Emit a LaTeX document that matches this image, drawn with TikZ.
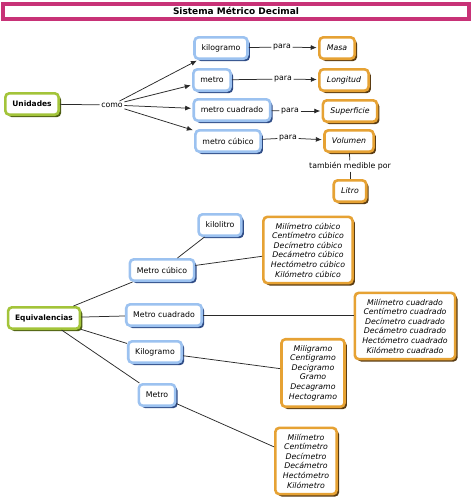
\documentclass[tikz,border=0pt]{standalone}
\usepackage{fontspec}
\setmainfont{DejaVu Sans}
\usetikzlibrary{arrows.meta,shadows}
\definecolor{smdpink}{HTML}{C83277}
\definecolor{smdblue}{HTML}{9CC2F0}
\definecolor{smdblueshade}{HTML}{2F4C86}
\definecolor{smdorange}{HTML}{E6A234}
\definecolor{smdorangeshade}{HTML}{5B3C12}
\definecolor{smdgreen}{HTML}{A3C43A}
\definecolor{smdgreenshade}{HTML}{4D5E14}
\definecolor{smdline}{HTML}{2A2A2A}

\begin{document}
\begin{tikzpicture}[
  x=1pt,y=-1pt,
  font=\fontsize{7.8}{9.6}\selectfont,
  >={Latex[length=6pt,width=5pt]},
  titlebox/.style={draw=smdpink,line width=4pt,fill=white,
    minimum width=466pt,minimum height=15pt,
    font=\fontsize{9}{11}\selectfont\bfseries},
  unitbox/.style={draw=smdblue,line width=2.6pt,rounded corners=4pt,
    fill=white,inner xsep=7pt,minimum height=21.4pt,
    drop shadow={shadow xshift=2.4pt,shadow yshift=-2.4pt,
      fill=smdblueshade,opacity=1}},
  aimbox/.style={draw=smdorange,line width=2.6pt,rounded corners=4pt,
    fill=white,inner xsep=7.5pt,minimum height=21.4pt,
    font=\fontsize{7.8}{9.6}\selectfont\itshape,
    drop shadow={shadow xshift=2.4pt,shadow yshift=-2.4pt,
      fill=smdorangeshade,opacity=1}},
  listbox/.style={aimbox,align=center,inner ysep=6pt},
  rootbox/.style={draw=smdgreen,line width=2.6pt,rounded corners=4pt,
    fill=white,inner xsep=7pt,minimum height=21.4pt,
    font=\fontsize{7.5}{9}\selectfont\bfseries,
    drop shadow={shadow xshift=2.4pt,shadow yshift=-2.4pt,
      fill=smdgreenshade,opacity=1}},
  lbl/.style={inner sep=1.5pt},
  link/.style={draw=smdline,line width=0.75pt},
  arr/.style={link,->,shorten >=1.3pt}
]
  \useasboundingbox (0,0) rectangle (474,499);

  % Title
  \node[titlebox] (title) at (236,11) {Sistema Métrico Decimal};

  % Upper map: Unidades
  \node[rootbox] (uni) at (32,104) {Unidades};
  \node[lbl] (como) at (112,105) {como};
  \node[unitbox] (kg) at (221,48) {kilogramo};
  \node[unitbox] (metro) at (212,80) {metro};
  \node[unitbox] (mcuad) at (232,110) {metro cuadrado};
  \node[unitbox] (mcub) at (228,141) {metro cúbico};

  \node[aimbox] (masa) at (337,48) {Masa};
  \node[aimbox] (longitud) at (344,80) {Longitud};
  \node[aimbox] (superficie) at (350,111) {Superficie};
  \node[aimbox] (volumen) at (349,141) {Volumen};
  \node[aimbox] (litro) at (350,191) {Litro};

  \node[lbl] (para1) at (282,47) {para};
  \node[lbl] (para2) at (283,79) {para};
  \node[lbl] (para3) at (290,111) {para};
  \node[lbl] (para4) at (288,138) {para};
  \node[lbl] (tmb) at (350,166) {también medible por};

  \draw[link] (uni) -- (como);
  \draw[arr] (como) -- (kg);
  \draw[arr] (como) -- (metro);
  \draw[arr] (como) -- (mcuad);
  \draw[arr] (como) -- (mcub);
  \draw[link] (kg) -- (para1);
  \draw[arr] (para1) -- (masa);
  \draw[link] (metro) -- (para2);
  \draw[arr] (para2) -- (longitud);
  \draw[link] (mcuad) -- (para3);
  \draw[arr] (para3) -- (superficie);
  \draw[link] (mcub) -- (para4);
  \draw[arr] (para4) -- (volumen);
  \draw[link] (volumen) -- (tmb);
  \draw[link] (tmb) -- (litro);

  % Lower map: Equivalencias
  \node[rootbox] (equiv) at (44,318) {Equivalencias};
  \node[unitbox] (mcubL) at (162,270) {Metro cúbico};
  \node[unitbox] (kilolitro) at (220,225) {kilolitro};
  \node[unitbox] (mcuadL) at (164,315) {Metro cuadrado};
  \node[unitbox] (kgL) at (155,352) {Kilogramo};
  \node[unitbox] (metroL) at (157,395) {Metro};

  \node[listbox] (cubList) at (308,250)
    {Milímetro cúbico\\Centímetro cúbico\\Decímetro cúbico\\
     Decámetro cúbico\\Hectómetro cúbico\\Kilómetro cúbico};
  \node[listbox] (cuadList) at (405,326)
    {Milímetro cuadrado\\Centímetro cuadrado\\Decímetro cuadrado\\
     Decámetro cuadrado\\Hectómetro cuadrado\\Kilómetro cuadrado};
  \node[listbox] (gramList) at (313,373)
    {Miligramo\\Centigramo\\Decigramo\\Gramo\\Decagramo\\Hectogramo};
  \node[listbox] (metList) at (306,461)
    {Milímetro\\Centímetro\\Decímetro\\Decámetro\\Hectómetro\\Kilómetro};

  \draw[link] (equiv) -- (mcubL);
  \draw[link] (equiv) -- (mcuadL);
  \draw[link] (equiv) -- (kgL);
  \draw[link] (equiv) -- (metroL);
  \draw[link] (mcubL) -- (kilolitro);
  \draw[link] (mcubL) -- (cubList);
  \draw[link] (mcuadL.east) -- (cuadList.west |- mcuadL.east);
  \draw[link] (kgL) -- (gramList);
  \draw[link] (metroL) -- (metList);
\end{tikzpicture}
\end{document}
